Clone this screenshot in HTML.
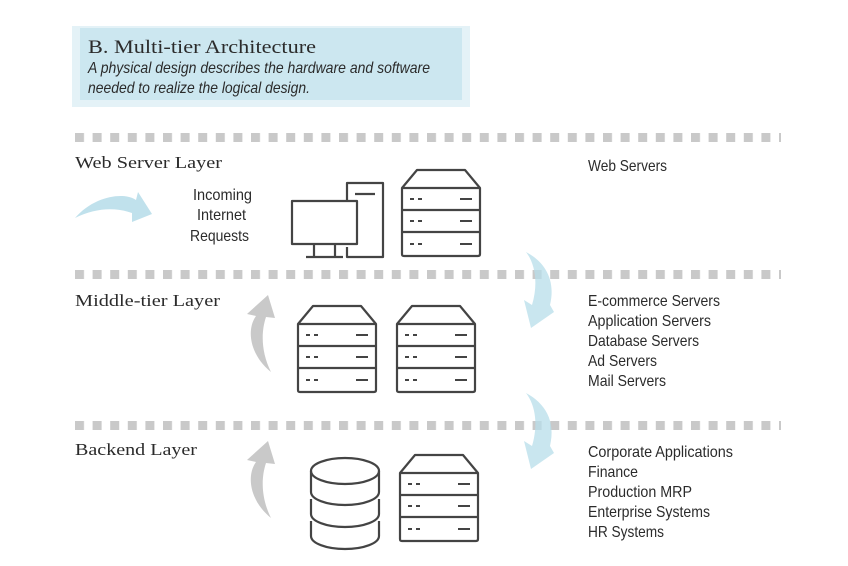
<!DOCTYPE html>
<html><head><meta charset="utf-8"><style>
html,body{margin:0;padding:0;background:#fff;}
svg{display:block;}
.serif{font-family:"Liberation Serif",serif;fill:#2b2b2b;}
.sans{font-family:"Liberation Sans",sans-serif;fill:#2b2b2b;}
</style></head><body>
<svg width="848" height="566" viewBox="0 0 848 566" xmlns="http://www.w3.org/2000/svg">
<defs>
<pattern id="dots" x="75" y="0" width="17.6" height="10" patternUnits="userSpaceOnUse">
<rect x="0" y="0" width="9" height="10" fill="#c9c9c9"/>
</pattern>
<g id="srv" fill="none" stroke="#444" stroke-width="2.2" stroke-linejoin="round">
<path d="M0,18 L15,0 L63,0 L78,18 L78,84 Q78,86 76,86 L2,86 Q0,86 0,84 Z"/>
<line x1="0" y1="18" x2="78" y2="18"/>
<line x1="0" y1="40" x2="78" y2="40"/>
<line x1="0" y1="62" x2="78" y2="62"/>
<g stroke-width="2"><line x1="8" y1="29" x2="12" y2="29"/><line x1="16" y1="29" x2="20" y2="29"/><line x1="58" y1="29" x2="70" y2="29"/>
<line x1="8" y1="51" x2="12" y2="51"/><line x1="16" y1="51" x2="20" y2="51"/><line x1="58" y1="51" x2="70" y2="51"/>
<line x1="8" y1="74" x2="12" y2="74"/><line x1="16" y1="74" x2="20" y2="74"/><line x1="58" y1="74" x2="70" y2="74"/></g>
</g>
<path id="barrow" d="M526,252 C545,262 556,280 550,305 L554,312 L531,328 L524,300 L532,305 C538,285 536,265 526,252 Z" fill="#b7dde9" fill-opacity="0.75"/>
<path id="garrow" d="M271,372 C250,355 246,330 256,316 L247,314 L268,295 L275,318 L266,317 C261,332 261,352 271,372 Z" fill="#c9c9c9"/>
</defs>

<rect x="72" y="26" width="398" height="81" fill="#e4f2f7"/>
<rect x="80" y="28" width="382" height="72" fill="#cce7f0"/>
<text x="88" y="53" class="serif" font-size="19" textLength="228" lengthAdjust="spacingAndGlyphs">B. Multi-tier Architecture</text>
<text x="88" y="73" class="sans" font-size="16" font-style="italic" textLength="342" lengthAdjust="spacingAndGlyphs">A physical design describes the hardware and software</text>
<text x="88" y="93" class="sans" font-size="16" font-style="italic" textLength="222" lengthAdjust="spacingAndGlyphs">needed to realize the logical design.</text>

<rect x="75" y="133" width="706" height="9" fill="url(#dots)"/>
<rect x="75" y="270" width="706" height="9" fill="url(#dots)"/>
<rect x="75" y="421" width="706" height="9" fill="url(#dots)"/>

<text x="75" y="168" class="serif" font-size="17" textLength="147" lengthAdjust="spacingAndGlyphs">Web Server Layer</text>
<text x="75" y="306" class="serif" font-size="17" textLength="145" lengthAdjust="spacingAndGlyphs">Middle-tier Layer</text>
<text x="75" y="455" class="serif" font-size="17" textLength="122" lengthAdjust="spacingAndGlyphs">Backend Layer</text>

<g class="sans" font-size="16">
<text x="193" y="200" textLength="59" lengthAdjust="spacingAndGlyphs">Incoming</text>
<text x="197" y="220" textLength="49" lengthAdjust="spacingAndGlyphs">Internet</text>
<text x="190" y="241" textLength="59" lengthAdjust="spacingAndGlyphs">Requests</text>
</g>

<path d="M75,218 C95,195 125,192 136,200 L138,192 L152,214 L132,222 L132,213 C115,207 95,208 75,218 Z" fill="#c0e1ec"/>

<g fill="none" stroke="#444" stroke-width="2.2" stroke-linejoin="round">
<path d="M347,201 L347,183 L383,183 L383,257 L347,257 L347,247"/>
<line x1="355" y1="194" x2="375" y2="194"/>
<rect x="292" y="201" width="65" height="43"/>
<line x1="314" y1="244" x2="314" y2="256"/>
<line x1="335" y1="244" x2="335" y2="256"/>
<line x1="306" y1="257" x2="343" y2="257"/>
</g>
<use href="#srv" x="402" y="170"/>
<use href="#srv" x="298" y="306"/>
<use href="#srv" x="397" y="306"/>
<use href="#srv" x="400" y="455"/>
<g fill="none" stroke="#444" stroke-width="2.2">
<ellipse cx="345" cy="471" rx="34" ry="13"/>
<path d="M311,471 L311,492 A34,13 0 0 0 379,492 L379,471"/>
<path d="M311,499 L311,514 A34,13 0 0 0 379,514 L379,499"/>
<path d="M311,521 L311,536 A34,13 0 0 0 379,536 L379,521"/>
</g>

<use href="#garrow"/>
<use href="#garrow" y="146"/>
<use href="#barrow"/>
<use href="#barrow" y="141"/>

<g class="sans" font-size="16">
<text x="588" y="171" textLength="79" lengthAdjust="spacingAndGlyphs">Web Servers</text>
<text x="588" y="306" textLength="132" lengthAdjust="spacingAndGlyphs">E-commerce Servers</text>
<text x="588" y="326" textLength="123" lengthAdjust="spacingAndGlyphs">Application Servers</text>
<text x="588" y="346" textLength="111" lengthAdjust="spacingAndGlyphs">Database Servers</text>
<text x="588" y="366" textLength="69" lengthAdjust="spacingAndGlyphs">Ad Servers</text>
<text x="588" y="386" textLength="78" lengthAdjust="spacingAndGlyphs">Mail Servers</text>
<text x="588" y="457" textLength="145" lengthAdjust="spacingAndGlyphs">Corporate Applications</text>
<text x="588" y="477" textLength="50" lengthAdjust="spacingAndGlyphs">Finance</text>
<text x="588" y="497" textLength="104" lengthAdjust="spacingAndGlyphs">Production MRP</text>
<text x="588" y="517" textLength="122" lengthAdjust="spacingAndGlyphs">Enterprise Systems</text>
<text x="588" y="537" textLength="76" lengthAdjust="spacingAndGlyphs">HR Systems</text>
</g>
</svg>
</body></html>
